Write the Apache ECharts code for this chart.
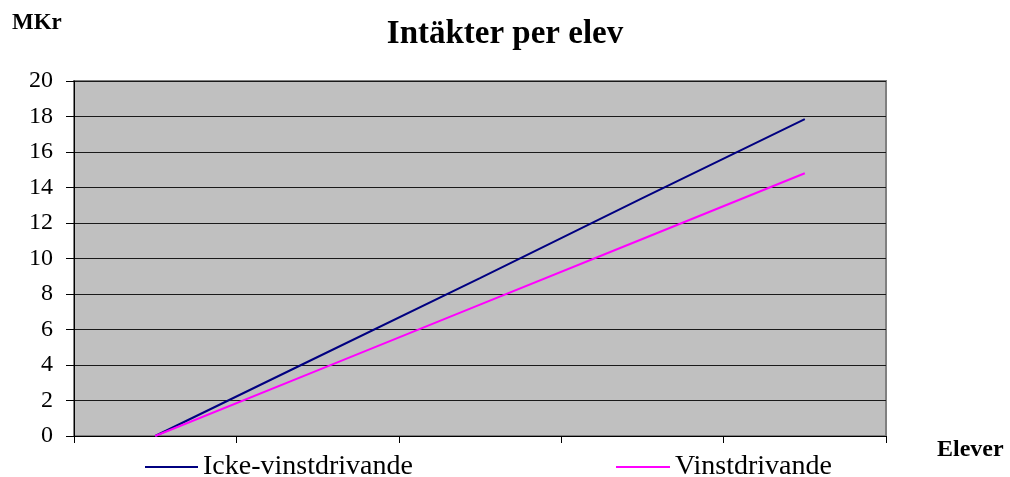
<!DOCTYPE html>
<html>

<head>
  <meta charset="utf-8" />
  <title>Intäkter per elev</title>
  <script src="https://cdn.jsdelivr.net/npm/echarts@6/dist/echarts.min.js"></script>
  <style>
    html, body { margin: 0; padding: 0; background: #fff; }
  </style>
</head>

<body>
  <div id="main" style="width: 1010px;height:477px;"></div>
  <script type="text/javascript">
    // data
    var categories = ['1', '2', '3', '4', '5'];
    var ickeVinst = [0, 4.45, 8.9, 13.4, 17.85];
    var vinst = [0, 3.7, 7.4, 11.1, 14.8];
    var yTicks = { min: 0, max: 20, interval: 2 };

    var serif = "'Liberation Serif', 'Times New Roman', serif";

    var chart = echarts.init(document.getElementById('main'));
    var option = {
      animation: false,
      title: [
        {
          text: 'Intäkter per elev',
          left: 'center',
          top: 13,
          textStyle: { fontFamily: serif, fontSize: 33, fontWeight: 'bold', color: '#000' }
        },
        {
          text: 'MKr',
          left: 7,
          top: 7,
          textStyle: { fontFamily: serif, fontSize: 23, fontWeight: 'bold', color: '#000' }
        },
        {
          text: 'Elever',
          left: 932,
          top: 433,
          textStyle: { fontFamily: serif, fontSize: 24, fontWeight: 'bold', color: '#000' }
        }
      ],
      legend: [
        {
          data: ['Icke-vinstdrivande'],
          left: 140,
          top: 448,
          icon: 'rect',
          itemWidth: 53,
          itemHeight: 2,
          itemGap: 0,
          textStyle: { fontFamily: serif, fontSize: 28, color: '#000' }
        },
        {
          data: ['Vinstdrivande'],
          left: 611,
          top: 448,
          icon: 'rect',
          itemWidth: 54,
          itemHeight: 2,
          itemGap: 0,
          textStyle: { fontFamily: serif, fontSize: 28, color: '#000' }
        }
      ],
      grid: {
        left: 74,
        right: 124,
        top: 81,
        bottom: 41,
        show: true,
        backgroundColor: '#C0C0C0',
        borderColor: '#808080',
        borderWidth: 2
      },
      xAxis: {
        type: 'category',
        data: categories,
        boundaryGap: true,
        axisLine: { lineStyle: { color: '#000', width: 1 } },
        axisTick: { show: true, interval: 0, length: 7, lineStyle: { color: '#000' } },
        axisLabel: { show: false },
        splitLine: { show: false }
      },
      yAxis: {
        type: 'value',
        min: yTicks.min,
        max: yTicks.max,
        interval: yTicks.interval,
        axisLine: { show: true, lineStyle: { color: '#000', width: 1 } },
        axisTick: { show: true, length: 8, lineStyle: { color: '#000' } },
        axisLabel: { margin: 21, fontFamily: serif, fontSize: 24, color: '#000' },
        splitLine: { show: true, lineStyle: { color: '#1a1a1a', width: 1 } }
      },
      series: [
        {
          name: 'Icke-vinstdrivande',
          type: 'line',
          data: ickeVinst,
          symbol: 'none',
          lineStyle: { color: '#000080', width: 2 },
          itemStyle: { color: '#000080' }
        },
        {
          name: 'Vinstdrivande',
          type: 'line',
          data: vinst,
          symbol: 'none',
          lineStyle: { color: '#FF00FF', width: 2 },
          itemStyle: { color: '#FF00FF' }
        }
      ]
    };
    chart.setOption(option);
  </script>
</body>

</html>
